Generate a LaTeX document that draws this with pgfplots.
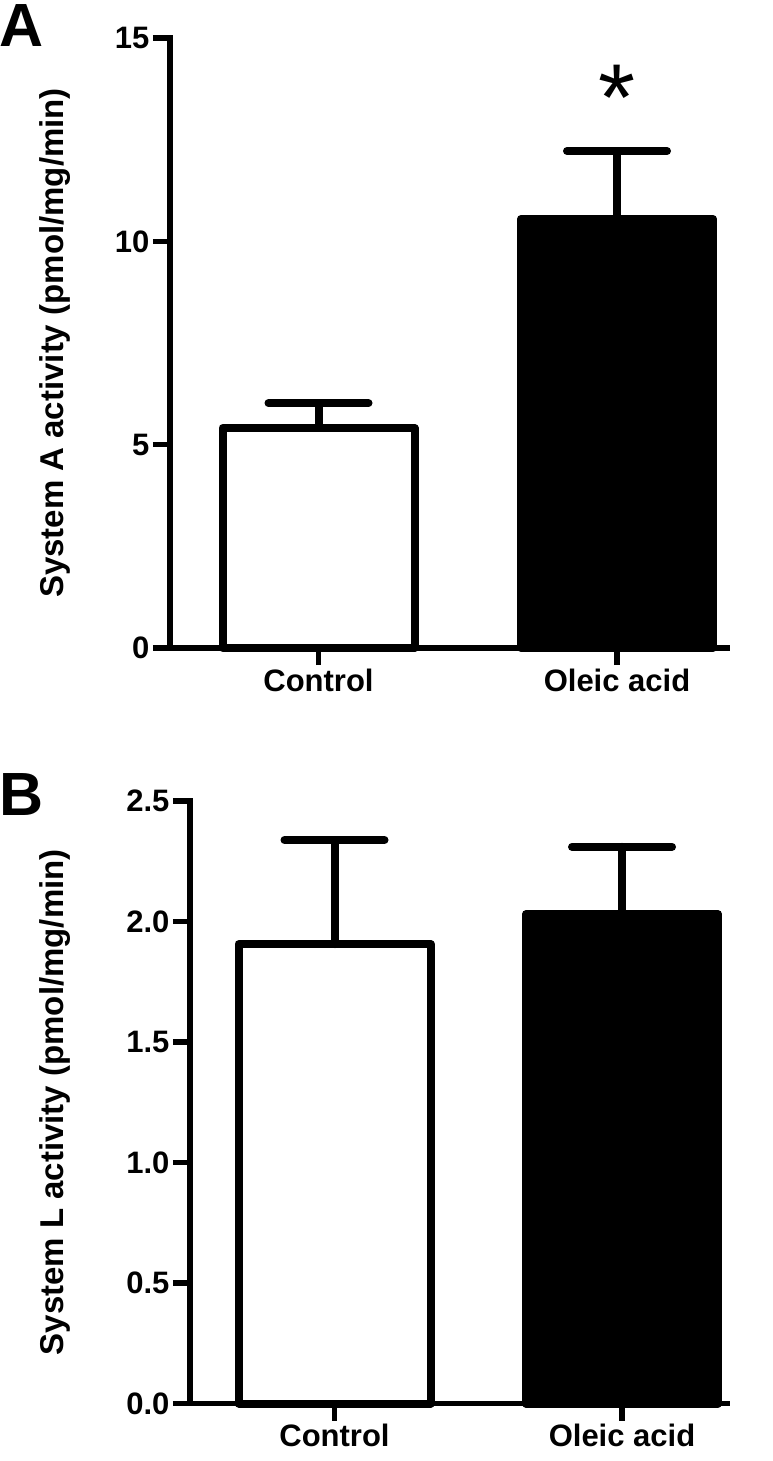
\documentclass[border=0pt]{standalone}
\usepackage{fontspec}
\setmainfont{Liberation Sans}
\usepackage{pgfplots}
\pgfplotsset{compat=1.18}
\pgfplotsset{
  gp/.style={
    scale only axis,
    clip=false,
    axis x line*=bottom,
    axis y line*=left,
    axis line style={line width=5.5pt, line cap=rect},
    tick align=outside,
    major tick length=17pt,
    tick style={line width=5.5pt, black},
    xtick={0,1},
    xticklabels={Control, Oleic acid},
    ymin=0,
    ticklabel style={font=\fontsize{31}{31}\selectfont\bfseries},
    /pgf/number format/assume math mode=true,
  },
  gpbar/.style={ybar, bar shift=0pt, bar width=192pt, draw=black, line width=8pt, line join=round,
     error bars/.cd, y dir=plus, y explicit, error mark=|,
     error bar style={line width=8pt, black, line cap=round},
     error mark options={black, line width=8pt, mark size=50pt, line cap=round}},
}
\begin{document}
\begin{tikzpicture}[x=1pt,y=1pt]
\useasboundingbox (0,0) rectangle (773,-1461);
\node[anchor=base west, inner sep=0pt, font=\fontsize{61}{61}\selectfont\bfseries] at (-1,-47) {A};
\node[anchor=base west, inner sep=0pt, font=\fontsize{61}{61}\selectfont\bfseries] at (-1,-815) {B};

\begin{axis}[gp, at={(170pt,-648pt)}, anchor=south west, width=557pt, height=610pt,
  xmin=-0.4975, xmax=1.3685, ymax=15, ytick={0,5,10,15},
  ylabel={System A activity (pmol/mg/min)},
  every axis y label/.style={at={(axis description cs:-0.2065,0.5)}, rotate=90, anchor=center,
    font=\fontsize{33}{33}\selectfont\bfseries}]
\addplot[fill=white, gpbar] coordinates {(0,5.41) +- (0,0.61)};
\addplot[fill=black, gpbar] coordinates {(1,10.55) +- (0,1.67)};
\node[anchor=base, inner sep=0pt, font=\fontsize{95}{95}\selectfont] at (axis cs:1,12.72) {*};
\end{axis}

\begin{axis}[gp, at={(190pt,-1403.5pt)}, anchor=south west, width=537pt, height=602.5pt,
  xmin=-0.5026, xmax=1.3652, ymax=2.5, ytick={0,0.5,1,1.5,2,2.5},
  yticklabel style={/pgf/number format/.cd, fixed, fixed zerofill, precision=1},
  ylabel={System L activity (pmol/mg/min)},
  every axis y label/.style={at={(axis description cs:-0.2514,0.5)}, rotate=90, anchor=center,
    font=\fontsize{33}{33}\selectfont\bfseries}]
\addplot[fill=white, gpbar] coordinates {(0,1.906) +- (0,0.432)};
\addplot[fill=black, gpbar] coordinates {(1,2.03) +- (0,0.28)};
\end{axis}
\end{tikzpicture}
\end{document}
